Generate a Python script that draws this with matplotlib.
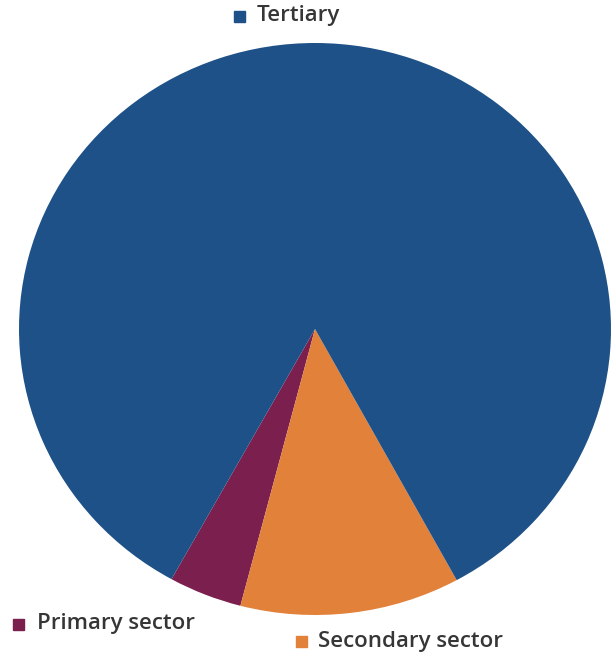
import matplotlib
matplotlib.use("Agg")
import matplotlib.pyplot as plt
from matplotlib.patches import Rectangle

categories = ["Primary sector", "Secondary sector", "Tertiary"]
shares = [4, 12, 84]
colors = ["#7a1f4e", "#e2813a", "#1d5187"]

W, H = 611, 656
fig = plt.figure(figsize=(W / 100, H / 100), dpi=100)
fig.patch.set_facecolor("white")

cx, cy, rx, ry = 315, 329, 296, 286
ax = fig.add_axes([(cx - rx) / W, (H - cy - ry) / H, 2 * rx / W, 2 * ry / H])
ax.pie(shares, colors=colors, startangle=241, counterclock=True,
       wedgeprops=dict(linewidth=0))
ax.set_aspect("auto")
ax.set_xlim(-1, 1)
ax.set_ylim(-1, 1)
ax.axis("off")

# legend-like labels (square centre, text start), pixel positions
label_pos = {
    "Tertiary": (239, 16, 257),
    "Primary sector": (18, 624, 37),
    "Secondary sector": (301, 641, 318),
}
for cat, col in zip(categories, colors):
    x, y, tx = label_pos[cat]
    s = 11
    fig.patches.append(Rectangle(((x - s / 2) / W, (H - y - s / 2) / H), s / W, s / H,
                                 transform=fig.transFigure, color=col))
    fig.text(tx / W, (H - y) / H, cat, ha="left", va="center",
             fontsize=16, color="#363636", family="Open Sans", weight="semibold")

fig.savefig("out.png", dpi=100)
